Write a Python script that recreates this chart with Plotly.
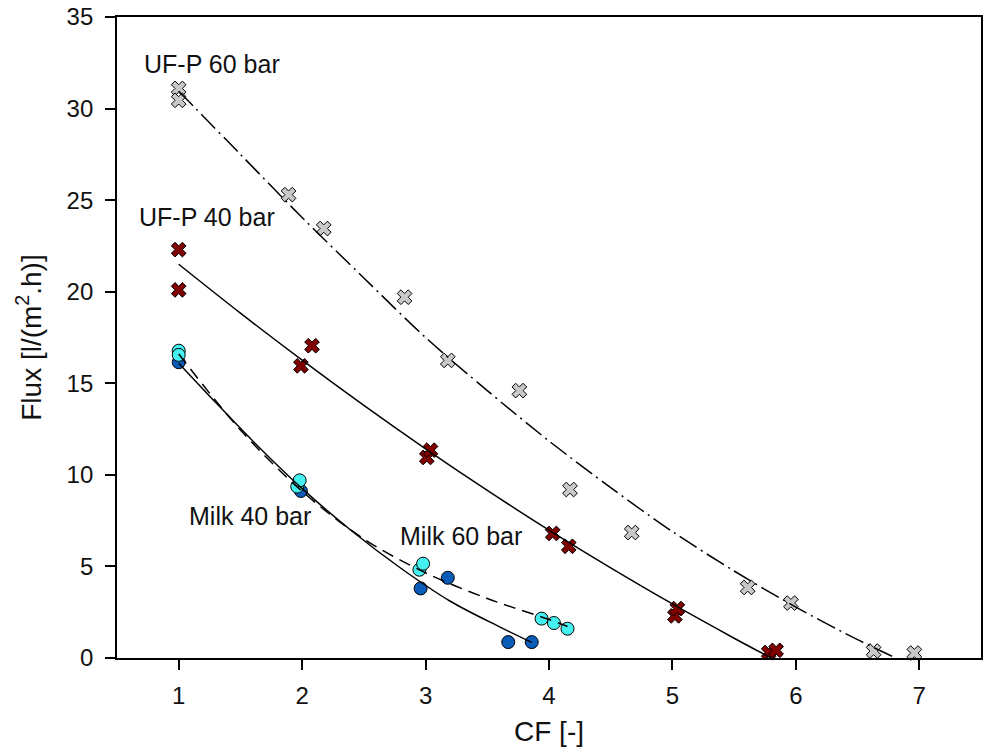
import plotly.graph_objects as go

# Measured points: concentration factor (CF) vs. permeate flux
ufp60_cf = [1.0, 1.0, 1.89, 2.175, 2.83, 3.18, 3.76, 4.17, 4.67, 5.61, 5.96, 6.63, 6.96]
ufp60_flux = [31.1, 30.45, 25.3, 23.45, 19.7, 16.25, 14.6, 9.2, 6.85, 3.85, 3.0, 0.38, 0.27]

ufp40_cf = [1.0, 1.0, 1.99, 2.08, 3.01, 3.04, 4.03, 4.16, 5.02, 5.04, 5.78, 5.84]
ufp40_flux = [22.3, 20.1, 15.95, 17.05, 10.95, 11.35, 6.8, 6.1, 2.3, 2.7, 0.3, 0.42]

milk40_cf = [1.0, 1.99, 2.96, 3.18, 3.67, 3.86]
milk40_flux = [16.15, 9.12, 3.8, 4.38, 0.87, 0.87]

milk60_cf = [1.0, 1.0, 1.96, 1.98, 2.95, 2.98, 3.94, 4.04, 4.15]
milk60_flux = [16.78, 16.55, 9.36, 9.7, 4.82, 5.15, 2.15, 1.91, 1.6]

# Regression curves, sampled along each fitted line
ufp60_fit_cf = [1.0, 1.5, 2.0, 2.5, 3.0, 3.5, 4.0, 4.5, 5.0, 5.5, 6.0, 6.5, 6.81]
ufp60_fit_flux = [30.95, 27.5, 24.05, 20.75, 17.5, 14.6, 11.85, 9.3, 6.9, 4.75, 2.78, 1.0, 0.0]

ufp40_fit_cf = [1.0, 1.5, 2.0, 2.5, 3.0, 3.5, 4.0, 4.5, 5.0, 5.5, 5.8]
ufp40_fit_flux = [21.5, 18.83, 16.26, 13.79, 11.42, 9.15, 6.98, 4.92, 2.95, 1.08, 0.0]

milk40_fit_cf = [1.0, 1.3, 1.6, 2.0, 2.4, 2.8, 3.2, 3.6, 3.86]
milk40_fit_flux = [16.1, 13.95, 11.85, 9.25, 6.95, 4.9, 3.1, 1.7, 0.85]

milk60_fit_cf = [1.0, 1.5, 2.0, 2.5, 3.0, 3.5, 4.0, 4.15]
milk60_fit_flux = [16.6, 12.45, 9.1, 6.5, 4.65, 3.25, 2.1, 1.72]

labels = ["UF-P 60 bar", "UF-P 40 bar", "Milk 40 bar", "Milk 60 bar"]
label_pos = [(0.70, 32.42), (0.66, 24.09), (1.07, 7.78), (2.78, 6.64)]

FONT = "Liberation Sans, Arial, sans-serif"

fig = go.Figure()

def markers(x, y, symbol, fill, size):
    fig.add_trace(go.Scatter(
        x=x, y=y, mode="markers", showlegend=False, cliponaxis=False,
        marker=dict(symbol=symbol, size=size, color=fill,
                    line=dict(color="black", width=1)),
    ))

def curve(x, y, dash):
    fig.add_trace(go.Scatter(
        x=x, y=y, mode="lines", showlegend=False,
        line=dict(color="black", width=1.5, dash=dash, shape="spline", smoothing=0.9),
    ))

markers(ufp60_cf, ufp60_flux, "x", "#c8c8c8", 13)
markers(ufp40_cf, ufp40_flux, "x", "#800000", 13)
markers(milk40_cf, milk40_flux, "circle", "#0a5cb8", 13)
markers(milk60_cf, milk60_flux, "circle", "#44f0f0", 13)

curve(ufp60_fit_cf, ufp60_fit_flux, "20px,5px,2px,5px")
curve(ufp40_fit_cf, ufp40_fit_flux, "solid")
curve(milk40_fit_cf, milk40_fit_flux, "solid")
curve(milk60_fit_cf, milk60_fit_flux, "12px,7px")

for text, (ax, ay) in zip(labels, label_pos):
    fig.add_annotation(x=ax, y=ay, text=text, showarrow=False,
                       xanchor="left", yanchor="middle",
                       font=dict(family=FONT, size=25, color="#111111"))

axis_common = dict(
    showgrid=False, zeroline=False, showline=True, linecolor="black", linewidth=1.8,
    mirror=True, ticks="outside", ticklen=10, tickwidth=1.5, tickcolor="black",
    tickfont=dict(family=FONT, size=24, color="#111111"),
)

fig.update_xaxes(range=[0.5, 7.5], tickmode="linear", tick0=1, dtick=1,
                 ticklabelstandoff=5,
                 title=dict(text="CF [-]", font=dict(family=FONT, size=28, color="#111111"),
                            standoff=14),
                 **axis_common)
fig.update_yaxes(range=[0, 35], tickmode="linear", tick0=0, dtick=5,
                 ticklabelstandoff=7,
                 title=dict(text="Flux [l/(m<sup>2</sup>.h)]",
                            font=dict(family=FONT, size=28, color="#111111"),
                            standoff=17),
                 **axis_common)

fig.update_layout(
    width=986, height=753,
    margin=dict(l=117, r=3, t=16, b=95),
    paper_bgcolor="white", plot_bgcolor="white",
)

fig.write_html("out.html")
